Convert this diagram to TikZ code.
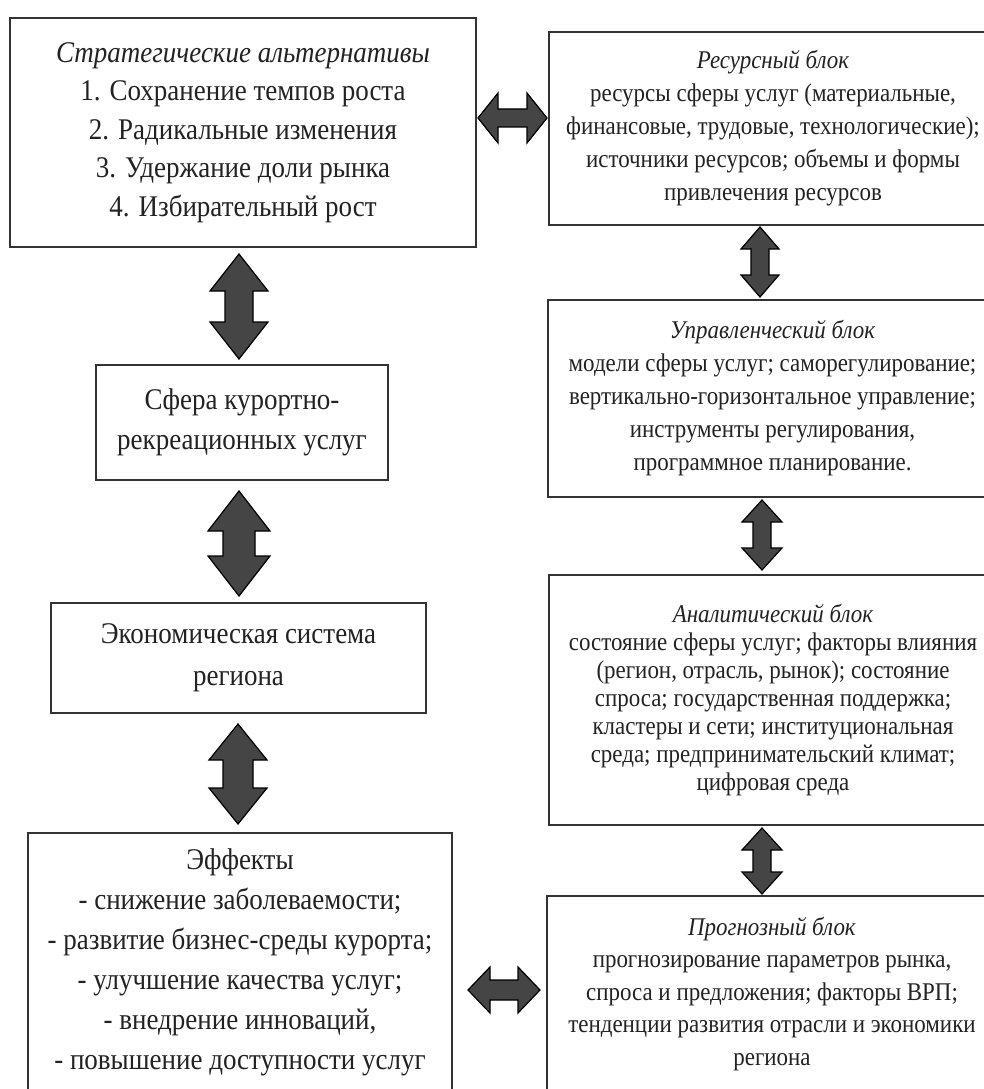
\documentclass[tikz,border=0pt]{standalone}
\usepackage{fontspec}
\setmainfont{Liberation Serif}[FakeStretch=0.9]
\usetikzlibrary{calc}
\definecolor{boxc}{HTML}{333333}
\definecolor{arrc}{HTML}{454545}
\definecolor{txt}{HTML}{222222}
\newcommand\dblV[5]{%
  \draw[blockarrow] let \p1=(#1), \p2=(#2) in
    (\x1,\y1) -- (\x1+#3,\y1-#5) -- (\x1+#4,\y1-#5) -- (\x1+#4,\y2+#5) -- (\x1+#3,\y2+#5)
    -- (\x1,\y2) -- (\x1-#3,\y2+#5) -- (\x1-#4,\y2+#5) -- (\x1-#4,\y1-#5) -- (\x1-#3,\y1-#5) -- cycle;}
\newcommand\dblH[5]{%
  \draw[blockarrow] let \p1=(#1), \p2=(#2) in
    (\x1,\y1) -- (\x1+#5,\y1+#3) -- (\x1+#5,\y1+#4) -- (\x2-#5,\y1+#4) -- (\x2-#5,\y1+#3)
    -- (\x2,\y1) -- (\x2-#5,\y1-#3) -- (\x2-#5,\y1-#4) -- (\x1+#5,\y1-#4) -- (\x1+#5,\y1-#3) -- cycle;}
\begin{document}
\begin{tikzpicture}[x=1pt,y=-1pt,
  box/.style={draw=boxc, line width=2pt, fill=white, align=center, inner sep=0pt, text=txt},
  bigtext/.style={font=\fontsize{30}{38.5}\selectfont},
  smalltext/.style={font=\fontsize{25.5}{33}\selectfont},
  blockarrow/.style={draw=black, line width=1.2pt, fill=arrc, line join=miter}]
\useasboundingbox (0,0) rectangle (984,1089);
\fill[white] (0,0) rectangle (984,1089);

% left column
\node[box, bigtext, minimum width=466pt, minimum height=229pt] (alt) at (243,132.5)
  {\textit{Стратегические альтернативы}\\1. Сохранение темпов роста\\2. Радикальные изменения\\3. Удержание доли рынка\\4. Избирательный рост};
\node[box, bigtext, font=\fontsize{30}{40}\selectfont, minimum width=292pt, minimum height=115pt] (sfera) at (242,422.5)
  {Сфера курортно-\\рекреационных услуг};
\node[box, bigtext, font=\fontsize{30}{42}\selectfont, minimum width=375pt, minimum height=110pt] (econ) at (238.5,658)
  {Экономическая система\\региона};
\node[box, bigtext, font=\fontsize{30}{40}\selectfont, minimum width=424pt, minimum height=258pt] (eff) at (240,962)
  {Эффекты\\- снижение заболеваемости;\\- развитие бизнес-среды курорта;\\- улучшение качества услуг;\\- внедрение инноваций,\\- повышение доступности услуг};

% right column
\node[box, smalltext, minimum width=448pt, minimum height=193pt] (res) at (773,128.5)
  {\textit{Ресурсный блок}\\ресурсы сферы услуг (материальные,\\финансовые, трудовые, технологические);\\источники ресурсов; объемы и формы\\привлечения ресурсов};
\node[box, smalltext, minimum width=449pt, minimum height=197pt] (upr) at (772.5,398.5)
  {\textit{Управленческий блок}\\модели сферы услуг; саморегулирование;\\вертикально-горизонтальное управление;\\инструменты регулирования,\\программное планирование.};
\node[box, smalltext, font=\fontsize{25.5}{28}\selectfont, minimum width=448pt, minimum height=250pt] (anal) at (773,700)
  {\textit{Аналитический блок}\\состояние сферы услуг; факторы влияния\\(регион, отрасль, рынок); состояние\\спроса; государственная поддержка;\\кластеры и сети; институциональная\\среда; предпринимательский климат;\\цифровая среда};
\node[box, smalltext, font=\fontsize{25.5}{32.5}\selectfont, minimum width=450pt, minimum height=196pt] (prog) at (772,994)
  {\textit{Прогнозный блок}\\прогнозирование параметров рынка,\\спроса и предложения; факторы ВРП;\\тенденции развития отрасли и экономики\\региона};

% arrow end points
\coordinate (a1t) at ($(alt.south)+(-4,6)$);
\coordinate (a1b) at ($(sfera.north)+(-3,-5)$);
\coordinate (a2t) at ($(sfera.south)+(-3,10)$);
\coordinate (a2b) at ($(econ.north)+(0.5,-6)$);
\coordinate (a3t) at ($(econ.south)+(-0.5,10)$);
\coordinate (a3b) at ($(eff.north)+(-2,-8)$);
\coordinate (h1l) at ($(alt.east)+(1,-14.5)$);
\coordinate (h1r) at ($(res.west)+(-1,-10.5)$);
\coordinate (h2l) at ($(eff.east)+(15,28)$);
\coordinate (h2r) at ($(prog.west)+(-6,-4)$);
\coordinate (r1t) at ($(res.south)+(-13,1)$);
\coordinate (r1b) at ($(upr.north)+(-12.5,-2)$);
\coordinate (r2t) at ($(upr.south)+(-10.5,2)$);
\coordinate (r2b) at ($(anal.north)+(-11,-4)$);
\coordinate (r3t) at ($(anal.south)+(-11,2)$);
\coordinate (r3b) at ($(prog.north)+(-10,-1)$);

\dblV{a1t}{a1b}{29pt}{14pt}{37pt}
\dblV{a2t}{a2b}{31pt}{16pt}{40pt}
\dblV{a3t}{a3b}{29pt}{15pt}{36pt}
\dblH{h1l}{h1r}{25pt}{9pt}{20pt}
\dblH{h2l}{h2r}{23pt}{10pt}{22pt}
\dblV{r1t}{r1b}{19pt}{9pt}{22pt}
\dblV{r2t}{r2b}{20pt}{9pt}{22pt}
\dblV{r3t}{r3b}{20pt}{9pt}{22pt}
\end{tikzpicture}
\end{document}
